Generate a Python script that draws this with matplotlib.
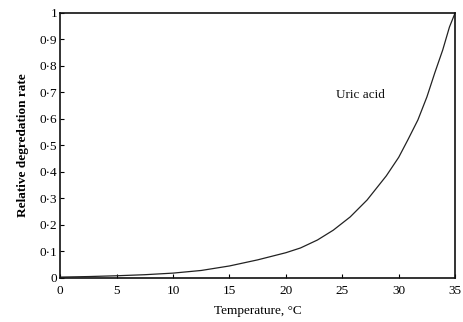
import matplotlib
matplotlib.use('Agg')
import matplotlib.pyplot as plt

plt.rcParams['font.family'] = ['Liberation Serif', 'DejaVu Serif']

# values
temperature = [0, 2.5, 5, 7.5, 10, 12.5, 15, 17.5, 20, 21.3, 22.8, 24.2, 25.7,
               27.2, 28.9, 30.0, 30.8, 31.7, 32.5, 33.2, 33.9, 34.5, 35]
rate = [0.003, 0.005, 0.008, 0.012, 0.018, 0.028, 0.045, 0.068, 0.095, 0.113,
        0.143, 0.18, 0.23, 0.294, 0.385, 0.455, 0.52, 0.596, 0.683, 0.774,
        0.86, 0.947, 1.0]

xticks = [0, 5, 10, 15, 20, 25, 30, 35]
yticks = [0, 0.1, 0.2, 0.3, 0.4, 0.5, 0.6, 0.7, 0.8, 0.9, 1]
ytick_labels = ['0', '0·1', '0·2', '0·3', '0·4', '0·5', '0·6', '0·7', '0·8', '0·9', '1']

fig = plt.figure(figsize=(4.63, 3.22), dpi=100)
ax = fig.add_axes([0.13, 0.137, 0.853, 0.823])

ax.plot(temperature, rate, color='#222222', lw=0.9, solid_joinstyle='round')
ax.text(24.4, 0.68, 'Uric acid', fontsize=9.5, color='#111111')

ax.set_xlim(0, 35)
ax.set_ylim(0, 1)
ax.set_xticks(xticks)
ax.set_yticks(yticks)
ax.set_yticklabels(ytick_labels)
ax.tick_params(direction='in', length=3, width=0.8, labelsize=9.5, top=False, right=False)
ax.tick_params(axis='x', pad=5)
ax.tick_params(axis='y', pad=2)
for s in ax.spines.values():
    s.set_linewidth(1.2)
    s.set_color('#111111')

ax.set_xlabel('Temperature, °C', fontsize=9.5, labelpad=6)
ax.set_ylabel('Relative degredation rate', fontsize=9.5, fontweight='bold', labelpad=8)

fig.savefig('out.png', dpi=100)
